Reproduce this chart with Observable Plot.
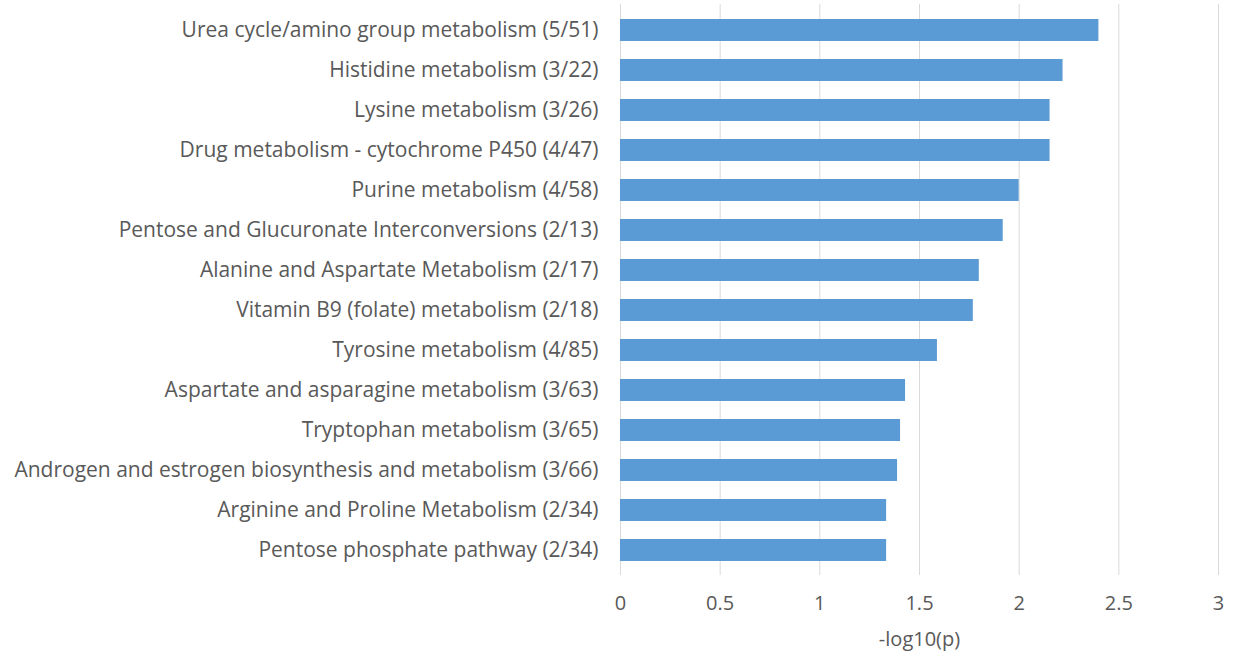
<!DOCTYPE html>
<html>
<head>
<meta charset="utf-8">
<script src="https://cdn.jsdelivr.net/npm/d3@7"></script>
<script src="https://cdn.jsdelivr.net/npm/@observablehq/plot@0.6"></script>
<style>
  html, body { margin: 0; padding: 0; background: #fff; }
  #chart svg { display: block; }
</style>
</head>
<body>
<div id="chart"></div>
<script>
const pathways = [
  "Urea cycle/amino group metabolism (5/51)",
  "Histidine metabolism (3/22)",
  "Lysine metabolism (3/26)",
  "Drug metabolism - cytochrome P450 (4/47)",
  "Purine metabolism (4/58)",
  "Pentose and Glucuronate Interconversions (2/13)",
  "Alanine and Aspartate Metabolism (2/17)",
  "Vitamin B9 (folate) metabolism (2/18)",
  "Tyrosine metabolism (4/85)",
  "Aspartate and asparagine metabolism (3/63)",
  "Tryptophan metabolism (3/65)",
  "Androgen and estrogen biosynthesis and metabolism (3/66)",
  "Arginine and Proline Metabolism (2/34)",
  "Pentose phosphate pathway (2/34)"
];
const negLog10P = [2.40, 2.22, 2.155, 2.155, 2.00, 1.92, 1.80, 1.77, 1.59, 1.43, 1.405, 1.39, 1.335, 1.335];
const xTicks = [0, 0.5, 1, 1.5, 2, 2.5, 3];
const xLabel = "-log10(p)";

const data = pathways.map((p, i) => ({pathway: p, value: negLog10P[i]}));

const chart = Plot.plot({
  width: 1235,
  height: 654,
  marginLeft: 620,
  marginRight: 17,
  marginTop: 4,
  marginBottom: 79,
  style: {fontFamily: "'Open Sans', sans-serif", fontSize: "20px", color: "#595959", background: "#fff"},
  x: {domain: [0, 3], ticks: xTicks},
  y: {domain: pathways, paddingInner: 0.46, paddingOuter: 0.28},
  marks: [
    Plot.gridX(xTicks, {stroke: "#d9d9d9", strokeOpacity: 1, strokeWidth: 1}),
    Plot.barX(data, {x: "value", y: "pathway", fill: "#5b9bd5"}),
    Plot.axisY({tickSize: 0, tickPadding: 22, label: null, fontSize: 21, fill: "#595959"}),
    Plot.axisX(xTicks, {tickSize: 0, tickPadding: 20, fontSize: 20, fill: "#595959", tickFormat: d => String(d),
      label: xLabel, labelAnchor: "center", labelArrow: "none", labelOffset: 70})
  ]
});
document.getElementById("chart").appendChild(chart);
</script>
</body>
</html>
